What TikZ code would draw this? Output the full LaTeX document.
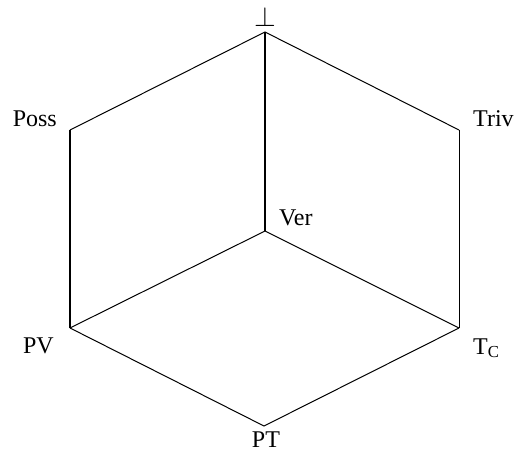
\documentclass[tikz,border=0pt]{standalone}
\usepackage{fontspec}
\setmainfont{Liberation Serif}
\begin{document}
\begin{tikzpicture}[x=1pt,y=-1pt,
  lab/.style={inner sep=0pt,font=\fontsize{24}{28}\selectfont},
  edge/.style={draw=black,line width=1pt},
  thickedge/.style={draw=black,line width=1.7pt}]
\useasboundingbox (0,0) rectangle (517,452);
\coordinate (top) at (265,32);
\coordinate (poss) at (70,130);
\coordinate (triv) at (459,130);
\coordinate (ver) at (265,231);
\coordinate (pv) at (70,328);
\coordinate (tc) at (459,328);
\coordinate (pt) at (264,426);
\node[lab,anchor=base] (lbot) at (265,27) {\scalebox{1.12}{$\perp$}};
\node[lab,anchor=base east] (lposs) at (57,126) {Poss};
\node[lab,anchor=base west] (ltriv) at (473,126) {Triv};
\node[lab,anchor=base west] (lver) at (279,225) {Ver};
\node[lab,anchor=base east] (lpv) at (54,353) {PV};
\node[lab,anchor=base west] (ltc) at (473,354) {T\textsubscript{C}};
\node[lab,anchor=base] (lpt) at (266,447) {PT};
\draw[edge] (poss) -- (top) -- (triv);
\draw[thickedge] (top) -- (ver);
\draw[thickedge] (poss) -- (pv);
\draw[edge] (triv) -- (tc);
\draw[edge] (pv) -- (ver) -- (tc);
\draw[edge] (pv) -- (pt) -- (tc);
\end{tikzpicture}
\end{document}
